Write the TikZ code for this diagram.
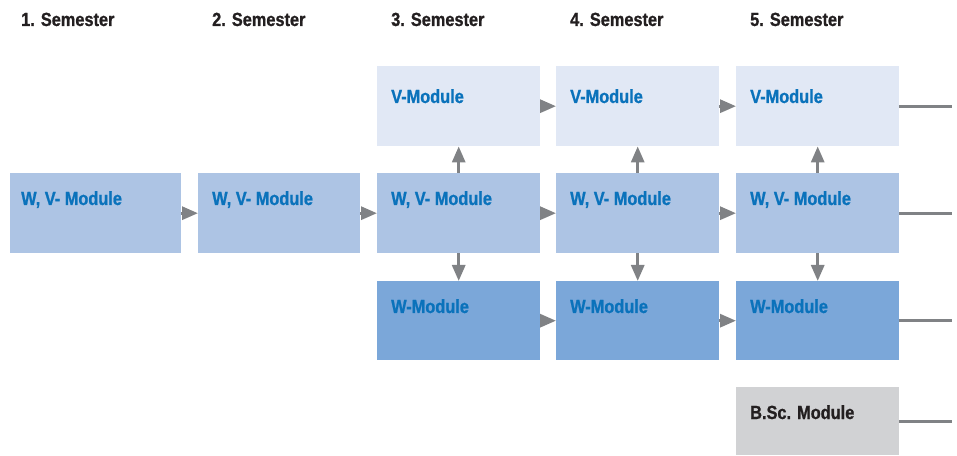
\documentclass[tikz,border=0pt]{standalone}
\usepackage{fontspec}
\setmainfont{Liberation Sans}[FakeStretch=0.86, BoldFeatures={FakeBold=1}]
\usetikzlibrary{arrows.meta, positioning, calc}

\definecolor{vfill}{HTML}{E1E8F5}
\definecolor{wvfill}{HTML}{ADC4E4}
\definecolor{wfill}{HTML}{7BA7D9}
\definecolor{bscfill}{HTML}{D1D2D4}
\definecolor{modblue}{HTML}{0A72BB}
\definecolor{headgray}{HTML}{231F20}
\definecolor{arrowgray}{HTML}{808285}

\tikzset{
    module/.style={inner sep=0pt, anchor=north west, minimum width=163pt, minimum height=80pt},
    modtext/.style={inner sep=0pt, anchor=base west, text=modblue, font=\fontsize{19}{21}\selectfont\bfseries},
    semtext/.style={inner sep=0pt, anchor=base west, text=headgray, font=\fontsize{19}{21}\selectfont\bfseries},
    arr/.style={draw=arrowgray, line width=3pt, -{Triangle[length=16pt, width=13pt]}},
    outline/.style={draw=arrowgray, line width=3pt}
}

\begin{document}
\begin{tikzpicture}[x=1pt, y=1pt]
    \useasboundingbox (0,0) rectangle (957,455);
    \foreach \s/\x in {1/21, 2/212, 3/391, 4/570, 5/750}
        \node[semtext] (sem\s) at (\x,429) {\s. Semester};

    \node[module, fill=wvfill, minimum width=171pt] (wv1) at (10,282) {};
    \node[module, fill=wvfill, minimum width=162pt] (wv2) at (198,282) {};
    \node[modtext] at ($(wv1.north west)+(11,-32)$) {W, V- Module};
    \node[modtext] at ($(wv2.north west)+(14,-32)$) {W, V- Module};

    \foreach \c/\x in {3/377, 4/556, 5/736} {
        \node[module, fill=vfill] (v\c) at (\x,389) {};
        \node[module, fill=wvfill] (wv\c) at (\x,282) {};
        \node[module, fill=wfill, minimum height=79pt] (w\c) at (\x,174) {};
        \node[modtext] at ($(v\c.north west)+(14,-37)$) {V-Module};
        \node[modtext] at ($(wv\c.north west)+(14,-32)$) {W, V- Module};
        \node[modtext] at ($(w\c.north west)+(14,-32)$) {W-Module};
        \draw[arr] (wv\c.north) -- (v\c.south);
        \draw[arr] (wv\c.south) -- (w\c.north);
    }

    \node[module, fill=bscfill, minimum height=68pt] (bsc) at (736,68) {};
    \node[modtext, text=headgray] at ($(bsc.north west)+(14,-32)$) {B.Sc. Module};

    \foreach \a/\b in {1/2, 2/3, 3/4, 4/5}
        \draw[arr] (wv\a.east) -- (wv\b.west);
    \foreach \a/\b in {3/4, 4/5} {
        \draw[arr] (v\a.east) -- (v\b.west);
        \draw[arr] (w\a.east) -- (w\b.west);
    }

    \foreach \n in {v5, wv5, w5, bsc} {
        \coordinate (out\n) at ($(\n.east)+(53,0)$);
        \draw[outline] (\n.east) -- (out\n);
    }
\end{tikzpicture}
\end{document}
